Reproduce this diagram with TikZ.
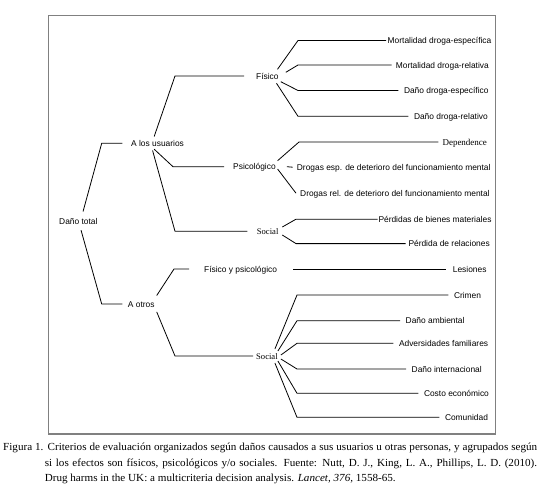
\documentclass[tikz,border=0pt]{standalone}
\usepackage{fontspec}
\setmainfont{Liberation Serif}
\setsansfont{Liberation Sans}
\newfontfamily\capfont[FakeStretch=1.03]{Liberation Serif}
\begin{document}
\begin{tikzpicture}[x=1pt,y=-1pt,
  hub/.style={anchor=west,inner sep=0pt,text height=6pt,text depth=0pt,font=\fontsize{8.4}{10}\sffamily},
  leaf/.style={hub,inner xsep=5.5pt},
  serif/.style={font=\fontsize{8.6}{10}\rmfamily},
  link/.style={line width=0.8pt}]
\useasboundingbox (0,0) rectangle (540,490);
\draw[black!50,line width=1.3pt] (48.5,15.5) rectangle (495.5,434);
% main branches
\node[hub] (dt) at (59,221.7) {Daño total};
\node[hub] (usu) at (131,143.3) {A los usuarios};
\node[hub] (otr) at (127.7,304) {A otros};
\node[hub] (fis) at (256,76) {Físico};
\node[hub] (psi) at (233,166.7) {Psicológico};
\node[hub,serif] (soc1) at (256.7,231.3) {Social};
\node[hub] (fyp) at (204,269) {Físico y psicológico};
\node[hub,serif] (soc2) at (256,356) {Social};
% criteria
\node[leaf,inner xsep=1.5pt] (mde) at (386,40.5) {Mortalidad droga-específica};
\node[leaf,inner xsep=4pt] (mdr) at (391.7,65) {Mortalidad droga-relativa};
\node[leaf] (dde) at (398.3,90.5) {Daño droga-específico};
\node[leaf] (ddr) at (408.3,116.3) {Daño droga-relativo};
\node[leaf,inner xsep=4pt,font=\fontsize{9}{10}\rmfamily] (dep) at (438.3,142) {Dependence};
\node[leaf,inner xsep=4pt] (dem) at (292.7,167.2) {Drogas esp. de deterioro del funcionamiento mental};
\node[leaf,inner xsep=4pt] (drm) at (296,193.2) {Drogas rel. de deterioro del funcionamiento mental};
\node[leaf,inner xsep=0.6pt] (pbm) at (377.7,219.2) {Pérdidas de bienes materiales};
\node[leaf,inner xsep=2.6pt] (pre) at (405.7,243.6) {Pérdida de relaciones};
\node[leaf,inner xsep=6.7pt] (les) at (446,269) {Lesiones};
\node[leaf] (cri) at (448.3,295) {Crimen};
\node[leaf] (dam) at (400,320.7) {Daño ambiental};
\node[leaf] (adf) at (393.3,343.3) {Adversidades familiares};
\node[leaf] (din) at (406,369) {Daño internacional};
\node[leaf] (cec) at (418.3,393.3) {Costo económico};
\node[leaf] (com) at (439.3,417.3) {Comunidad};
% tree lines
\draw[link] ([xshift=4.7pt,yshift=7pt]dt.north) -- (101.7,0 |- usu.west) -- ([xshift=-8.7pt]usu.west);
\draw[link] ([xshift=2.7pt,yshift=-5.3pt]dt.south) -- (101.7,0 |- otr.west) -- ([xshift=-5.4pt]otr.west);
\draw[link] ([xshift=-3.4pt,yshift=3.6pt]usu.north) -- (175,0 |- fis.west) -- ([xshift=-12pt]fis.west);
\draw[link] ([xshift=-3.4pt,yshift=-2.7pt]usu.south) -- (173,0 |- psi.west) -- ([xshift=-9pt]psi.west);
\draw[link] ([xshift=-5pt,yshift=-4pt]usu.south) -- (175,0 |- soc1.west) -- ([xshift=-9.4pt]soc1.west);
\draw[link] ([xshift=2pt,yshift=5.3pt]otr.north east) -- (174,0 |- fyp.west) -- ([xshift=-15pt]fyp.west);
\draw[link] ([xshift=2pt,yshift=-4.7pt]otr.south east) -- (175,0 |- soc2.west) -- ([xshift=-3pt]soc2.west);
\foreach \t/\dx/\dy in {mde/-1.3/6.7, mdr/7/3.7, dde/2/-5.7, ddr/-2.3/-7.3}
  \draw[link] ([xshift=\dx pt,yshift=\dy pt]fis.east) -- (298,0 |- \t.west) -- (\t.west);
\draw[link] ([xshift=1.7pt,yshift=6pt]psi.east) -- (299,0 |- dep.west) -- (dep.west);
\draw[link] ([xshift=11pt]psi.east) -- (dem.west);
\draw[link] ([xshift=1.7pt,yshift=-2.3pt]psi.east) -- (drm.west);
\draw[link] ([xshift=3.7pt,yshift=4.3pt]soc1.east) -- (296,0 |- pbm.west) -- (pbm.west);
\draw[link] ([xshift=3.7pt,yshift=-3.7pt]soc1.east) -- (296,0 |- pre.west) -- (pre.west);
\draw[link] ([xshift=16pt]fyp.east) -- (les.west);
\foreach \t/\dx/\dy in {cri/-3/7, dam/0/5, adf/3/1, din/3/-3, cec/0/-5, com/-3/-7}
  \draw[link] ([xshift=\dx pt,yshift=\dy pt]soc2.east) -- (297,0 |- \t.west) -- (\t.west);
% caption
\node[anchor=north west,inner sep=0pt,text width=534pt,align=justify,font=\capfont\fontsize{10.8}{15.6}\selectfont] (cap) at (3,443)
  {\hangindent=41.6pt\hangafter=1 Figura 1. Criterios de evaluación organizados según daños causados a sus usuarios u otras personas, y agrupados según\linebreak
   si los efectos son físicos, psicológicos y/o sociales. Fuente: Nutt, D. J., King, L. A., Phillips, L. D. (2010).\linebreak
   Drug harms in the UK: a multicriteria decision analysis. \textit{Lancet, 376,} 1558-65.\par};
\end{tikzpicture}
\end{document}
